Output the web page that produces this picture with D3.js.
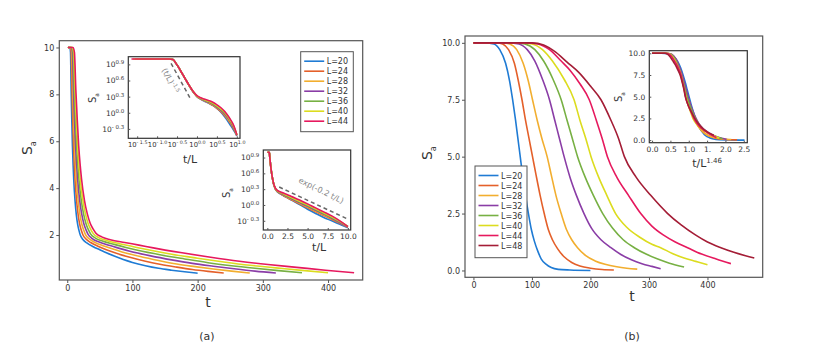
<!DOCTYPE html>
<html>
<head>
<meta charset="utf-8">
<script src="https://cdn.jsdelivr.net/npm/d3@7"></script>
<style>
body { margin: 0; background: #fff; }
svg text { font-family: "DejaVu Sans", sans-serif; fill: #333; }
</style>
</head>
<body>
<svg id="chart" width="830" height="359"></svg>
<script>
// 系統尺寸 L
const lsA = [20, 24, 28, 32, 36, 40, 44];
const lsB = [20, 24, 28, 32, 36, 40, 44, 48];
const colors = ["#1f7bd4", "#e4602a", "#f2ae2f", "#8a3da6", "#77b043", "#dcdc1f", "#e6195e", "#a41d36"];

// panel (a): [t, S_a]
const a20 = [[1,10],[2,10],[4,10],[5,9.8],[6,8.2],[7,6.9],[8,5.8],[9,5.0],[10,4.35],[12,3.45],[14,2.85],[16,2.45],[18,2.2],[20,2.0],[24,1.81],[30,1.66],[40,1.5],[50,1.37],[60,1.24],[80,1.02],[100,0.83],[120,0.69],[140,0.58],[160,0.5],[180,0.43],[200,0.37]];
const a24 = [[1,10],[2.4,10],[4.8,10],[6,9.8],[7.2,8.2],[8.4,6.9],[9.6,5.8],[10.8,5.0],[12,4.35],[14.4,3.45],[16.8,2.85],[19.2,2.45],[21.6,2.2],[24,2.01],[28.8,1.83],[36,1.68],[48,1.51],[60,1.37],[72,1.25],[96,1.05],[120,0.88],[144,0.74],[168,0.63],[192,0.53],[216,0.45],[240,0.38]];
const a28 = [[1,10],[2.8,10],[5.6,10],[7,9.8],[8.4,8.2],[9.8,6.9],[11.2,5.8],[12.6,5.0],[14,4.35],[16.8,3.45],[19.6,2.86],[22.4,2.46],[25.2,2.21],[28,2.02],[33.6,1.84],[42,1.69],[56,1.53],[70,1.4],[84,1.28],[112,1.08],[140,0.91],[168,0.76],[196,0.65],[224,0.55],[252,0.46],[280,0.38]];
const a32 = [[1,10],[3.2,10],[6.4,10],[8,9.8],[9.6,8.2],[11.2,6.9],[12.8,5.8],[14.4,5.0],[16,4.36],[19.2,3.46],[22.4,2.87],[25.6,2.47],[28.8,2.22],[32,2.03],[38.4,1.85],[48,1.71],[64,1.56],[80,1.43],[96,1.31],[128,1.11],[160,0.94],[192,0.79],[224,0.67],[256,0.56],[288,0.46],[320,0.38]];
const a36 = [[1,10],[3.6,10],[7.2,10],[9,9.8],[10.8,8.2],[12.6,6.9],[14.4,5.8],[16.2,5.0],[18,4.37],[21.6,3.47],[25.2,2.88],[28.8,2.48],[32.4,2.23],[36,2.04],[43.2,1.87],[54,1.74],[72,1.6],[90,1.47],[108,1.35],[144,1.15],[180,0.98],[216,0.82],[252,0.69],[288,0.58],[324,0.48],[360,0.39]];
const a40 = [[1,10],[4,10],[8,10],[10,9.8],[12,8.2],[14,6.9],[16,5.8],[18,5.0],[20,4.37],[24,3.48],[28,2.89],[32,2.49],[36,2.24],[40,2.06],[48,1.89],[60,1.77],[80,1.63],[100,1.51],[120,1.39],[160,1.18],[200,1.01],[240,0.85],[280,0.71],[320,0.6],[360,0.49],[400,0.39]];
const a44 = [[1,10],[4.4,10],[8.8,10],[11,9.8],[13.2,8.2],[15.4,6.9],[17.6,5.8],[19.8,5.0],[22,4.38],[26.4,3.48],[30.8,2.9],[35.2,2.5],[39.6,2.26],[44,2.08],[52.8,1.92],[66,1.8],[88,1.68],[110,1.57],[132,1.45],[176,1.24],[220,1.05],[264,0.88],[308,0.74],[352,0.62],[396,0.5],[440,0.39]];
const seriesA = [a20, a24, a28, a32, a36, a40, a44];

// panel (b): [t, S_a]
const b20 = [[0,10],[20,10],[35,9.95],[45,9.7],[55,9.1],[62,8.3],[67,7.5],[72,6.6],[76,5.8],[80,5.0],[84,4.2],[89,3.3],[94,2.5],[99,1.8],[104,1.3],[110,0.85],[116,0.5],[124,0.28],[133,0.13],[145,0.05],[165,0.02],[200,0.0]];
const b24 = [[0,10],[40,10],[50,9.95],[60,9.7],[70,9.1],[77,8.3],[83,7.5],[89,6.6],[95,5.8],[101,5.0],[107,4.2],[114,3.3],[121,2.5],[128,1.8],[135,1.35],[144,0.95],[155,0.6],[168,0.35],[182,0.2],[200,0.1],[220,0.04],[240,0.02]];
const b28 = [[0,10],[50,10],[62,9.95],[74,9.7],[85,9.1],[94,8.3],[101,7.5],[109,6.6],[117,5.8],[126,5.0],[133,4.2],[141,3.3],[150,2.5],[159,1.8],[168,1.35],[178,1.0],[192,0.65],[208,0.42],[225,0.27],[245,0.16],[262,0.1],[280,0.06]];
const b32 = [[0,10],[60,10],[78,9.95],[92,9.7],[105,9.2],[118,8.4],[130,7.5],[139,6.6],[147,5.8],[155,5.0],[165,4.1],[176,3.3],[189,2.5],[202,1.85],[218,1.35],[235,1.0],[252,0.7],[270,0.47],[288,0.3],[305,0.18],[320,0.08]];
const b36 = [[0,10],[70,10],[88,9.95],[105,9.7],[120,9.2],[136,8.4],[150,7.5],[160,6.6],[169,5.8],[178,5.0],[191,4.1],[205,3.3],[221,2.5],[238,1.85],[256,1.35],[275,1.0],[295,0.72],[315,0.5],[335,0.32],[360,0.15]];
const b40 = [[0,10],[80,10],[100,9.95],[118,9.7],[135,9.2],[155,8.4],[172,7.5],[182,6.6],[192,5.8],[201,5.0],[214,4.1],[228,3.3],[243,2.5],[262,1.9],[285,1.45],[305,1.15],[320,1.0],[340,0.75],[360,0.55],[380,0.4],[400,0.25]];
const b44 = [[0,10],[90,10],[110,9.95],[130,9.7],[150,9.2],[165,8.8],[182,8.2],[198,7.5],[210,6.6],[220,5.8],[229,5.0],[245,4.1],[265,3.3],[286,2.5],[305,1.95],[325,1.55],[345,1.25],[366,1.0],[390,0.72],[415,0.5],[440,0.3]];
const b48 = [[0,10],[100,10],[120,9.9],[140,9.6],[160,9.15],[180,8.7],[200,8.1],[218,7.5],[235,6.6],[248,5.8],[258,5.0],[278,4.1],[303,3.3],[332,2.5],[355,2.0],[380,1.55],[400,1.25],[423,1.0],[445,0.8],[465,0.65],[480,0.55]];
const seriesB = [b20, b24, b28, b32, b36, b40, b44, b48];

// 參考虛線 [t/L, S_a]
const guidePow = [[0.224, 8.3], [0.676, 1.86]];
const guideExp = [[1.47, 2.19], [9.87, 0.55]];

// 刻度
const ticksAx = [0, 100, 200, 300, 400];
const ticksAy = [2, 4, 6, 8, 10];
const ticksBx = [0, 100, 200, 300, 400];
const ticksBy = [0, 2.5, 5, 7.5, 10];
const logTicksX = [-1.5, -1.0, -0.5, 0.0, 0.5, 1.0];
const logTicksY = [-0.3, 0.0, 0.3, 0.6, 0.9];
const ticksA2x = [0, 2.5, 5, 7.5, 10];
const ticksBinX = [0, 0.5, 1, 1.5, 2, 2.5];
const labelsBinX = ["0.0", "0.5", "1.0", "1.", "2.0", "2.5"];
const scaleExp = 1.46;

const svg = d3.select("#chart");
let clipId = 0;
const pad = ([a, b]) => [a - (b - a) * 0.03, b + (b - a) * 0.03];

function frame(x0, y0, x1, y1, col) {
  const g = svg.append("g");
  g.append("rect").attr("x", x0).attr("y", y0).attr("width", x1 - x0).attr("height", y1 - y0)
    .attr("fill", "#fff");
  const id = "clip" + (clipId++);
  svg.append("clipPath").attr("id", id).append("rect")
    .attr("x", x0).attr("y", y0).attr("width", x1 - x0).attr("height", y1 - y0);
  const plot = g.append("g").attr("clip-path", `url(#${id})`);
  const over = g.append("g");
  over.append("rect").attr("x", x0).attr("y", y0).attr("width", x1 - x0).attr("height", y1 - y0)
    .attr("fill", "none").attr("stroke", col).attr("stroke-width", 1.2);
  return { g, plot, over };
}

function axes(over, x, y, o) {
  const [x0, x1] = x.range(), [y1, y0] = y.range();
  const ax = over.append("g").attr("transform", `translate(0,${y1})`)
    .call(d3.axisBottom(x).tickValues(o.xt).tickSizeInner(o.tick).tickSizeOuter(0).tickPadding(o.padd)
      .tickFormat(o.xf || (d => d)));
  const ay = over.append("g").attr("transform", `translate(${x0},0)`)
    .call(d3.axisLeft(y).tickValues(o.yt).tickSizeInner(o.tick).tickSizeOuter(0).tickPadding(o.padd)
      .tickFormat(o.yf || (d => d)));
  [ax, ay].forEach(a => {
    a.select(".domain").remove();
    a.selectAll(".tick line").attr("stroke", "#555");
    a.selectAll(".tick text").attr("font-size", o.fs).attr("fill", "#333");
  });
  return { ax, ay };
}

function supLabels(axisG, size, sz) {
  axisG.selectAll(".tick text").each(function (d) {
    const v = Math.round(Math.log10(d) * 10) / 10;
    const t = d3.select(this).text("").attr("font-size", size);
    t.append("tspan").text("10");
    t.append("tspan").attr("dy", -3).attr("font-size", sz)
      .text(v < 0 ? "- " + Math.abs(v).toFixed(1) : v.toFixed(1));
  });
}

function ylabel(x, y, size, sub) {
  const t = svg.append("text").attr("transform", `translate(${x},${y}) rotate(-90)`)
    .attr("text-anchor", "middle").attr("font-size", size);
  t.append("tspan").text("S");
  t.append("tspan").attr("font-size", size * 0.6).attr("dy", size * 0.25).text(sub);
}

function text(x, y, s, size, anchor) {
  return svg.append("text").attr("x", x).attr("y", y).attr("font-size", size)
    .attr("text-anchor", anchor || "middle").text(s);
}

function legend(x0, y0, w, h, ls) {
  const g = svg.append("g");
  g.append("rect").attr("x", x0).attr("y", y0).attr("width", w).attr("height", h)
    .attr("fill", "#fff").attr("stroke", "#555").attr("stroke-width", 1);
  ls.forEach((L, i) => {
    const yy = y0 + 9.5 + i * 10;
    g.append("line").attr("x1", x0 + 3.5).attr("x2", x0 + 23.5).attr("y1", yy).attr("y2", yy)
      .attr("stroke", colors[i]).attr("stroke-width", 1.6);
    g.append("text").attr("x", x0 + 26).attr("y", yy + 3).attr("font-size", 8).text("L=" + L);
  });
}

// ---- (a) 主圖
{
  const all = seriesA.flat();
  const x = d3.scaleLinear().domain(pad(d3.extent(all, d => d[0]))).range([59.3, 362.7]);
  const y = d3.scaleLinear().domain(pad(d3.extent(all, d => d[1]))).range([280, 40.7]);
  const f = frame(59.3, 40.7, 362.7, 280, "#555");
  const line = d3.line().x(d => x(d[0])).y(d => y(d[1])).curve(d3.curveMonotoneX);
  seriesA.forEach((s, i) => f.plot.append("path").attr("d", line(s)).attr("fill", "none")
    .attr("stroke", colors[i]).attr("stroke-width", 1.6));
  axes(f.over, x, y, { xt: ticksAx, yt: ticksAy, tick: 3, padd: 2, fs: 8 });
  ylabel(32, 148, 14, "a");
  text(208, 307, "t", 14);
  text(207, 340, "(a)", 11);
}

// (a) 插圖一: log-log 對 t/L
{
  const all = seriesA.flatMap((s, i) => s.map(d => [d[0] / lsA[i], d[1]]));
  const lx = pad(d3.extent(all, d => Math.log10(d[0])));
  const ly = pad(d3.extent(all, d => Math.log10(d[1])));
  const x = d3.scaleLog().domain(lx.map(v => 10 ** v)).range([128.3, 240]);
  const y = d3.scaleLog().domain(ly.map(v => 10 ** v)).range([138.3, 56.7]);
  const f = frame(128.3, 56.7, 240, 138.3, "#333");
  const line = d3.line().x(d => x(d[0])).y(d => y(d[1])).curve(d3.curveMonotoneX);
  seriesA.forEach((s, i) => f.plot.append("path")
    .attr("d", line(s.map(d => [d[0] / lsA[i], d[1]]))).attr("fill", "none")
    .attr("stroke", colors[i]).attr("stroke-width", 1.6));
  f.plot.append("path").attr("d", d3.line().x(d => x(d[0])).y(d => y(d[1]))(guidePow))
    .attr("fill", "none").attr("stroke", "#666").attr("stroke-width", 1.5).attr("stroke-dasharray", "4,3");
  const a = axes(f.over, x, y, { xt: logTicksX.map(v => 10 ** v), yt: logTicksY.map(v => 10 ** v),
    tick: -2, padd: 4, fs: 7 });
  supLabels(a.ax, 6.8, 4.8);
  supLabels(a.ay, 7.5, 5.5);
  const lab = svg.append("text").attr("transform", "translate(168,82) rotate(62)")
    .attr("text-anchor", "middle").attr("font-size", 8).style("fill", "#888");
  lab.append("tspan").text("(t/L)");
  lab.append("tspan").attr("dy", -3).attr("font-size", 5.5).text("-1.5");
  ylabel(96, 98, 10, "a");
  text(190, 163, "t/L", 11);
}

// (a) 插圖二: 半對數 對 t/L
{
  const x = d3.scaleLinear().domain([-0.5, 10.35]).range([263.3, 350.7]);
  const all = seriesA.flat();
  const ly = pad(d3.extent(all, d => Math.log10(d[1])));
  const y = d3.scaleLog().domain(ly.map(v => 10 ** v)).range([230, 150]);
  const f = frame(263.3, 150, 350.7, 230, "#333");
  const line = d3.line().x(d => x(d[0])).y(d => y(d[1])).curve(d3.curveMonotoneX);
  seriesA.forEach((s, i) => f.plot.append("path")
    .attr("d", line(s.map(d => [d[0] / lsA[i], d[1]]))).attr("fill", "none")
    .attr("stroke", colors[i]).attr("stroke-width", 1.6));
  f.plot.append("path").attr("d", d3.line().x(d => x(d[0])).y(d => y(d[1]))(guideExp))
    .attr("fill", "none").attr("stroke", "#666").attr("stroke-width", 1.5).attr("stroke-dasharray", "4,3");
  const a = axes(f.over, x, y, { xt: ticksA2x, yt: logTicksY.map(v => 10 ** v), tick: -2, padd: 4, fs: 7.5,
    xf: d => d.toFixed(1) });
  supLabels(a.ay, 7.5, 5.5);
  svg.append("text").attr("transform", "translate(320,193) rotate(26.5)")
    .attr("text-anchor", "middle").attr("font-size", 8).style("fill", "#888").text("exp(-0.2 t/L)");
  ylabel(230, 193, 10, "a");
  text(319, 251, "t/L", 11);
}
legend(300.7, 51.7, 52.6, 80, lsA);

// ---- (b) 主圖
{
  const all = seriesB.flat();
  const x = d3.scaleLinear().domain(pad(d3.extent(all, d => d[0]))).range([465, 762.7]);
  const y = d3.scaleLinear().domain(pad(d3.extent(all, d => d[1]))).range([277.3, 36]);
  const f = frame(465, 36, 762.7, 277.3, "#555");
  const line = d3.line().x(d => x(d[0])).y(d => y(d[1])).curve(d3.curveMonotoneX);
  seriesB.forEach((s, i) => f.plot.append("path").attr("d", line(s)).attr("fill", "none")
    .attr("stroke", colors[i]).attr("stroke-width", 1.6));
  axes(f.over, x, y, { xt: ticksBx, yt: ticksBy, tick: 3, padd: 2, fs: 8, yf: d => d.toFixed(1) });
  ylabel(432, 153, 14, "a");
  text(632, 301, "t", 14);
  text(632, 340, "(b)", 11);
}

// (b) 插圖: S_a 對 t/L^1.46
{
  const scaled = seriesB.map((s, i) => s.map(d => [d[0] / Math.pow(lsB[i], scaleExp), d[1]]));
  const all = scaled.flat();
  const x = d3.scaleLinear().domain(pad(d3.extent(all, d => d[0]))).range([649.3, 747.3]);
  const y = d3.scaleLinear().domain(pad(d3.extent(all, d => d[1]))).range([142.7, 50.7]);
  const f = frame(649.3, 50.7, 747.3, 142.7, "#333");
  const line = d3.line().x(d => x(d[0])).y(d => y(d[1])).curve(d3.curveMonotoneX);
  scaled.forEach((s, i) => f.plot.append("path").attr("d", line(s)).attr("fill", "none")
    .attr("stroke", colors[i]).attr("stroke-width", 1.6));
  axes(f.over, x, y, { xt: ticksBinX, yt: ticksBy, tick: -2, padd: 4, fs: 7.5,
    xf: (d, i) => labelsBinX[i], yf: d => d.toFixed(1) });
  ylabel(622, 97, 10, "a");
  const t = text(707, 167, "t/L", 11);
  t.append("tspan").attr("dy", -4).attr("font-size", 7).text("1.46");
}
legend(475, 166, 52, 91.7, lsB);
</script>
</body>
</html>
